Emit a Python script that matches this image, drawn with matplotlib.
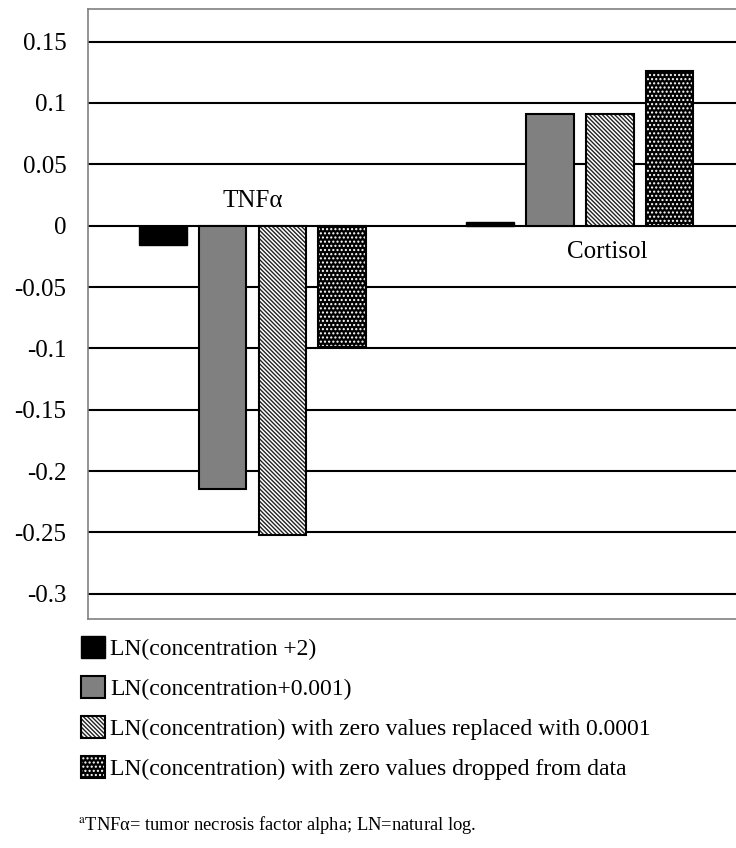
import matplotlib.pyplot as plt
from matplotlib.legend_handler import HandlerTuple

plt.rcParams['font.family'] = ['Liberation Serif', 'DejaVu Serif']
plt.rcParams['mathtext.fontset'] = 'stix'
plt.rcParams['hatch.linewidth'] = 1.0

# data
groups = ["TNF\u03b1", "Cortisol"]
series = [
    "LN(concentration +2)",
    "LN(concentration+0.001)",
    "LN(concentration) with zero values replaced with 0.0001",
    "LN(concentration) with zero values dropped from data",
]
values = [
    [-0.016, 0.003],
    [-0.2146, 0.091],
    [-0.252, 0.091],
    [-0.099, 0.1263],
]
yticks = [0.15, 0.1, 0.05, 0, -0.05, -0.1, -0.15, -0.2, -0.25, -0.3]
yticklabels = ["0.15", "0.1", "0.05", "0", "-0.05", "-0.1", "-0.15", "-0.2", "-0.25", "-0.3"]

fig = plt.figure(figsize=(7.36, 8.48), dpi=100)
ax = fig.add_axes([88 / 736, 1 - 619 / 848, 1 - 88 / 736 + 0.01, (619 - 9) / 848])

width = 0.146
pitch = 0.183
x = [0, 1]
handles = []
for i, vals in enumerate(values):
    pos = [xi + (i - 1.5) * pitch for xi in x]
    if i == 0:
        b = ax.bar(pos, vals, width, color="black", edgecolor="black", linewidth=1, zorder=3)
        handles.append(b[0])
    elif i == 1:
        b = ax.bar(pos, vals, width, color="#808080", edgecolor="black", linewidth=1.5, zorder=3)
        handles.append(b[0])
    elif i == 2:
        b = ax.bar(pos, vals, width, color="white", edgecolor="#222222", hatch="\\" * 8,
                   linewidth=0, zorder=3)
        o = ax.bar(pos, vals, width, fill=False, edgecolor="black", linewidth=1.5, zorder=4)
        handles.append((b[0], o[0]))
    else:
        b = ax.bar(pos, vals, width, color="black", edgecolor="white", hatch="....",
                   linewidth=0, zorder=3)
        o = ax.bar(pos, vals, width, fill=False, edgecolor="black", linewidth=1.5, zorder=4)
        handles.append((b[0], o[0]))

ax.set_xlim(-0.5026, 1.50)
ax.set_ylim(-0.3205, 0.1766)
ax.set_yticks(yticks)
ax.set_yticklabels(yticklabels, fontsize=18)
ax.set_xticks([])
ax.tick_params(axis="y", length=0, pad=15.5)
ax.yaxis.grid(True, color="black", linewidth=1.5, zorder=1)
ax.set_axisbelow(True)
for s in ax.spines.values():
    s.set_color("#808080")
    s.set_linewidth(1.2)

ax.text(0.0, 0.0205, groups[0], fontsize=18, ha="center", va="center")
ax.text(1.085, -0.0215, groups[1], fontsize=18, ha="center", va="center")

fig.legend(handles, series, loc="upper left", bbox_to_anchor=(72 / 736, 1 - 627 / 848),
           frameon=False, fontsize=17, handlelength=0.98, handleheight=1.06,
           handletextpad=0.25, labelspacing=0.67, borderaxespad=0,
           handler_map={tuple: HandlerTuple(ndivide=1, pad=0)})

fig.text(78 / 736, 1 - 825 / 848, "$^{\\mathrm{a}}$TNF\u03b1= tumor necrosis factor alpha; LN=natural log.",
         fontsize=13.3, va="center", ha="left")

fig.savefig("out.png", dpi=100)
